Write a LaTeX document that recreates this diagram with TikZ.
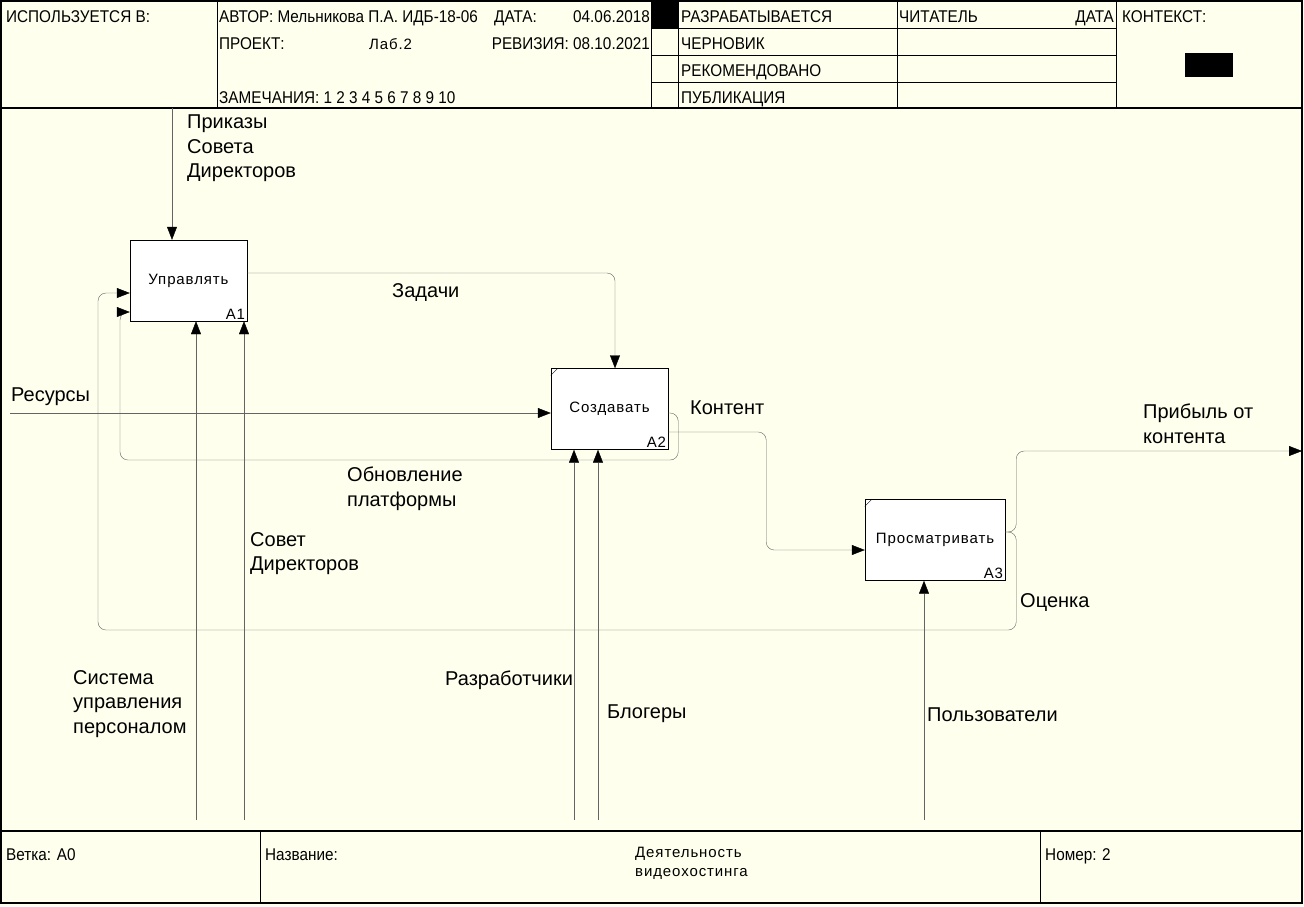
\documentclass[tikz,border=0pt]{standalone}
\usepackage{fontspec}
\setmainfont{Liberation Sans}
\newfontfamily\hdrfont[FakeStretch=0.9]{Liberation Sans}
\newfontfamily\thinfont[LetterSpace=6]{Liberation Sans}
\usetikzlibrary{arrows.meta}
\definecolor{paper}{RGB}{255,255,238}
\definecolor{wire}{RGB}{100,100,100}

\begin{document}
\begin{tikzpicture}
	[x=1pt, y=-1pt,
	block/.style ={rectangle, draw=black, fill=white, minimum width=117pt, minimum height=81pt, inner sep=0pt,
		font=\thinfont\fontsize{15}{17}\selectfont},
	num/.style ={anchor=south east, inner sep=2pt, font=\thinfont\fontsize{15}{17}\selectfont},
	line/.style ={draw=wire, rounded corners=8pt, -{Triangle[length=13pt,width=10pt,black]}},
	lbl/.style ={anchor=north west, inner sep=0pt, align=left, font=\fontsize{20}{24.5}\selectfont},
	hdr/.style ={anchor=base west, inner sep=0pt, font=\hdrfont\fontsize{17}{19}\selectfont},
	thin/.style ={anchor=base west, inner sep=0pt, align=left, font=\thinfont\fontsize{15}{19}\selectfont},
	]
	\useasboundingbox (0,0) rectangle (1304,906);
	\fill[paper] (0,0) rectangle (1304,906);

	% frame
	\draw[black, line width=1.2pt] (1,1) rectangle (1302,903);
	\draw[black, line width=1.2pt] (1,108) -- (1302,108);
	\draw[black, line width=1.2pt] (1,831) -- (1302,831);
	\foreach \x in {217,651,678,897,1116}
		\draw[black] (\x,1) -- (\x,108);
	\foreach \y in {28,55,82}
		\draw[black] (651,\y) -- (1116,\y);
	\foreach \x in {260,1040}
		\draw[black] (\x,831) -- (\x,903);
	\fill[black] (651,1) rectangle (678,28);
	\fill[black] (1185,53) rectangle (1233,77);

	% header
	\draw (6,22) node[hdr] (used) {ИСПОЛЬЗУЕТСЯ В:};
	\draw (219,22) node[hdr] (author) {АВТОР: Мельникова П.А. ИДБ-18-06};
	\draw (494,22) node[hdr] (date) {ДАТА:};
	\draw (650,22) node[hdr, anchor=base east] (dateval) {04.06.2018};
	\draw (219,49) node[hdr] (project) {ПРОЕКТ:};
	\draw (369,49) node[thin] (projval) {Лаб.2};
	\draw (650,49) node[hdr, anchor=base east] (rev) {РЕВИЗИЯ: 08.10.2021};
	\draw (219,103) node[hdr] (notes) {ЗАМЕЧАНИЯ: 1 2 3 4 5 6 7 8 9 10};
	\draw (681,22) node[hdr] (st1) {РАЗРАБАТЫВАЕТСЯ};
	\draw (681,49) node[hdr] (st2) {ЧЕРНОВИК};
	\draw (681,76) node[hdr] (st3) {РЕКОМЕНДОВАНО};
	\draw (681,103) node[hdr] (st4) {ПУБЛИКАЦИЯ};
	\draw (899,22) node[hdr] (reader) {ЧИТАТЕЛЬ};
	\draw (1114,22) node[hdr, anchor=base east] (rdate) {ДАТА};
	\draw (1122,22) node[hdr] (context) {КОНТЕКСТ:};

	% footer
	\draw (6,860) node[hdr] (branch) {Ветка: A0};
	\draw (265,860) node[hdr] (title) {Название:};
	\draw (635,876) node[thin] (titleval) {Деятельность\\видеохостинга};
	\draw (1045,860) node[hdr] (number) {Номер: 2};

	% activities
	\draw (188.5,280.5) node[block, label={[num]south east:A1}] (A1) {Управлять};
	\draw (609.5,409) node[block, label={[num]south east:A2}] (A2) {Создавать};
	\draw (935,540) node[block, minimum width=140pt, label={[num]south east:A3}] (A3) {Просматривать};
	\draw[black] ([yshift=-7pt]A2.north west) -- ++(7,-7);
	\draw[black] ([yshift=-7pt]A3.north west) -- ++(7,-7);

	% free ends
	\coordinate (orders) at (172,108);
	\coordinate (res) at (10,413);
	\coordinate (profit) at (1302,451);
	\coordinate (upd) at (120,460);
	\coordinate (rate) at (98,630);
	\coordinate (hr) at (196,820);
	\coordinate (board) at (244,820);
	\coordinate (devs) at (574,820);
	\coordinate (blog) at (598,820);
	\coordinate (users) at (924,820);

	% arrows
	\draw[line] (orders) -- (orders |- A1.north);
	\draw[line] ([yshift=7.5pt]A1.east) -| ([xshift=5.5pt]A2.north);
	\draw[line] (res) -- (res -| A2.west);
	\draw[line] ([yshift=-4pt]A2.east) -- ++(10,0) |- (upd) |- ([yshift=-31.5pt]A1.west);
	\draw[line] ([yshift=-23pt]A2.east) -- ++(98,0) |- ([yshift=-10pt]A3.west);
	\draw[line] ([yshift=8pt]A3.east) -- ++(11,0) |- (profit);
	\draw[line] ([yshift=8pt]A3.east) -- ++(11,0) |- (rate) |- ([yshift=-12.5pt]A1.west);
	\draw[line] (hr) -- (hr |- A1.south);
	\draw[line] (board) -- (board |- A1.south);
	\draw[line] (devs) -- (devs |- A2.south);
	\draw[line] (blog) -- (blog |- A2.south);
	\draw[line] (users) -- (users |- A3.south);

	% labels
	\draw (187,115) node[lbl] (ordersl) {Приказы\\Совета\\Директоров};
	\draw (392,283) node[lbl] (tasks) {Задачи};
	\draw (11,388) node[lbl] (resl) {Ресурсы};
	\draw (690,401) node[lbl] (content) {Контент};
	\draw (347,467) node[lbl] (updl) {Обновление\\платформы};
	\draw (1143,404) node[lbl] (profitl) {Прибыль от\\контента};
	\draw (250,532) node[lbl] (boardl) {Совет\\Директоров};
	\draw (1020,593) node[lbl] (ratel) {Оценка};
	\draw (73,670) node[lbl] (hrl) {Система\\управления\\персоналом};
	\draw (445,671) node[lbl] (devsl) {Разработчики};
	\draw (607,705) node[lbl] (blogl) {Блогеры};
	\draw (927,708) node[lbl] (usersl) {Пользователи};
\end{tikzpicture}
\end{document}
